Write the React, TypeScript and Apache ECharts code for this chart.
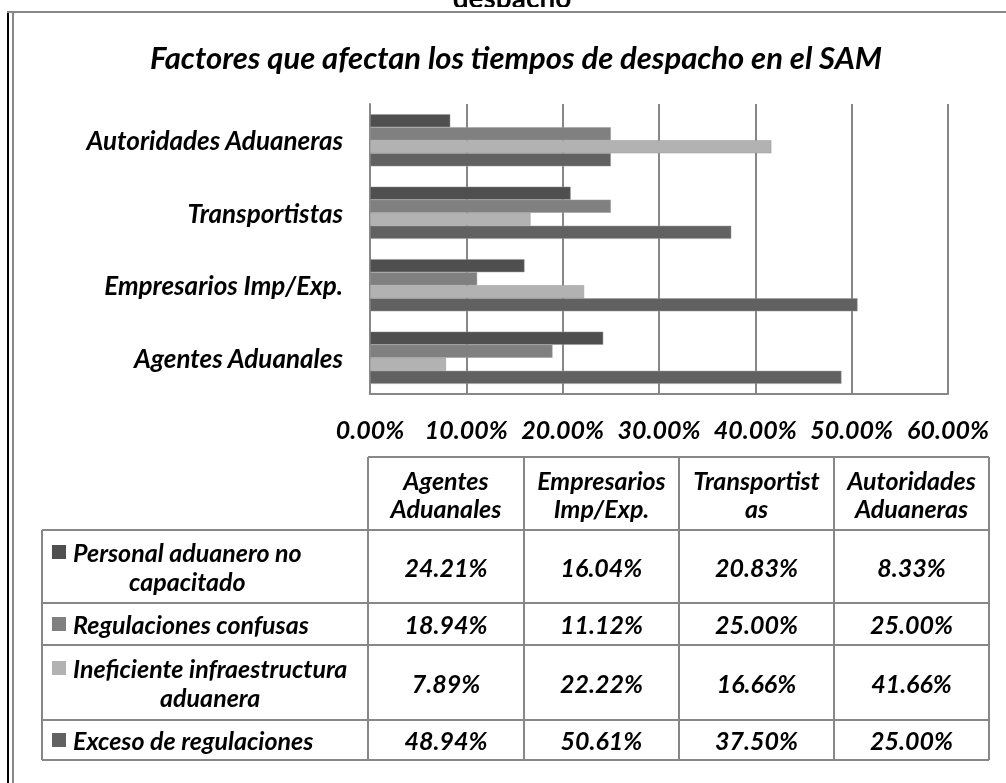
import React, { useEffect, useRef } from "react";
import * as echarts from "echarts";

const categories = ["Agentes Aduanales", "Empresarios Imp/Exp.", "Transportistas", "Autoridades Aduaneras"];
const headerLines = [["Agentes", "Aduanales"], ["Empresarios", "Imp/Exp."], ["Transportist", "as"], ["Autoridades", "Aduaneras"]];
const seriesNames = ["Personal aduanero no capacitado", "Regulaciones confusas", "Ineficiente infraestructura aduanera", "Exceso de regulaciones"];
const legendLines = [["Personal aduanero no", "capacitado"], ["Regulaciones confusas"], ["Ineficiente infraestructura", "aduanera"], ["Exceso de regulaciones"]];
const personal = [24.21, 16.04, 20.83, 8.33];
const regulaciones = [18.94, 11.12, 25.0, 25.0];
const ineficiente = [7.89, 22.22, 16.66, 41.66];
const exceso = [48.94, 50.61, 37.5, 25.0];
const seriesValues = [personal, regulaciones, ineficiente, exceso];
const colors = ["#4f4f4f", "#808080", "#b2b2b2", "#616161"];
const titleText = "Factores que afectan los tiempos de despacho en el SAM";
const topText = "despacho";

const FONT = "Lato";
const GRID_LINE = "#878787";

function measure(text: string, size: number) {
  const c = document.createElement("canvas").getContext("2d")!;
  c.font = `italic bold ${size}px ${FONT}`;
  return c.measureText(text).width;
}

export default function App() {
  const ref = useRef<HTMLDivElement>(null);
  useEffect(() => {
    document.body.style.margin = "0";
    const chart = echarts.init(ref.current!, null, { renderer: "svg" });

    const colX = [42, 368, 524, 679, 834, 989];
    const headerTop = 457;
    const rowY = [530, 603, 645, 720, 760];
    const tStyle = { fontFamily: FONT, fontStyle: "italic", fontWeight: "bold", fill: "#000" } as any;
    const graphics: any[] = [];
    const TS = 25; // table text size
    const VS = 25; // values size
    const HLH = 28; // header line spacing
    const LLH = 29; // legend line spacing

    const txt = (text: string, x: number, y: number, size: number, align: string, z = 4) =>
      graphics.push({ type: "text", z, style: { ...tStyle, text, x, y, fontSize: size, align, verticalAlign: "middle" } });

    // top cut-off text
    graphics.push({ type: "text", z: 1, style: { ...tStyle, fontStyle: "normal", text: topText, x: 512, y: -3, fontSize: 28, align: "center", verticalAlign: "middle" } });
    // white background of frame
    graphics.push({ type: "rect", z: 2, shape: { x: 0, y: 7, width: 1006, height: 790 }, style: { fill: "#fff" } });
    // frame lines
    graphics.push({ type: "line", z: 3, shape: { x1: 8, y1: 11, x2: 8, y2: 783 }, style: { stroke: "#000", lineWidth: 2 } });
    graphics.push({ type: "line", z: 3, shape: { x1: 13, y1: 11, x2: 13, y2: 783 }, style: { stroke: GRID_LINE, lineWidth: 2 } });
    graphics.push({ type: "line", z: 3, shape: { x1: 7, y1: 12, x2: 1006, y2: 12 }, style: { stroke: GRID_LINE, lineWidth: 2 } });

    // title
    txt(titleText, 516, 57, 31, "center");

    // table lines
    const ln = (x1: number, y1: number, x2: number, y2: number) =>
      graphics.push({ type: "line", z: 3, shape: { x1, y1, x2, y2 }, style: { stroke: GRID_LINE, lineWidth: 2 } });
    ln(colX[1], headerTop, colX[5], headerTop);
    rowY.forEach((y) => ln(colX[0], y, colX[5], y));
    ln(colX[0], rowY[0], colX[0], rowY[rowY.length - 1]);
    for (let i = 1; i < colX.length; i++) ln(colX[i], headerTop, colX[i], rowY[rowY.length - 1]);

    // header texts
    headerLines.forEach((lines, i) => {
      const cx = (colX[i + 1] + colX[i + 2]) / 2;
      const cy = (headerTop + rowY[0]) / 2;
      lines.forEach((l, k) => txt(l, cx, cy + (k - (lines.length - 1) / 2) * HLH, TS, "center"));
    });

    // legend & values
    seriesNames.forEach((name, r) => {
      const cy = (rowY[r] + rowY[r + 1]) / 2;
      const lines = legendLines[r];
      const iconX = 52;
      const textX = 73;
      if (lines.length === 1) {
        graphics.push({ type: "rect", z: 4, shape: { x: iconX, y: cy - 7, width: 14, height: 14 }, style: { fill: colors[r] } });
        txt(lines[0], textX, cy, TS, "left");
      } else {
        const w = measure(lines[0], TS);
        const y0 = cy - LLH / 2;
        graphics.push({ type: "rect", z: 4, shape: { x: iconX, y: y0 - 7, width: 14, height: 14 }, style: { fill: colors[r] } });
        txt(lines[0], textX, y0, TS, "left");
        txt(lines[1], textX + w / 2, y0 + LLH, TS, "center");
      }
      seriesValues[r].forEach((v, c) => {
        const cx = (colX[c + 1] + colX[c + 2]) / 2;
        txt(v.toFixed(2) + "%", cx, cy, VS, "center");
      });
    });

    const option: any = {
      animation: false,
      backgroundColor: "transparent",
      grid: { left: 370, right: 58, top: 104, bottom: 389, containLabel: false, z: 5 },
      xAxis: {
        type: "value",
        min: 0,
        max: 60,
        interval: 10,
        z: 5,
        axisLine: { show: true, lineStyle: { color: GRID_LINE, width: 2 } },
        axisTick: { show: false },
        splitLine: { show: true, lineStyle: { color: GRID_LINE, width: 2 } },
        axisLabel: { formatter: (v: number) => v.toFixed(2) + "%", margin: 22, fontFamily: FONT, fontStyle: "italic", fontWeight: "bold", fontSize: 25, color: "#000" },
      },
      yAxis: {
        type: "category",
        data: categories,
        z: 5,
        axisLine: { show: true, lineStyle: { color: GRID_LINE, width: 2 } },
        axisTick: { show: false },
        splitLine: { show: false },
        axisLabel: { margin: 27, fontFamily: FONT, fontStyle: "italic", fontWeight: "bold", fontSize: 26, color: "#000" },
      },
      series: seriesNames.map((name, i) => ({
        type: "bar",
        name,
        data: seriesValues[i],
        barGap: "0%",
        barCategoryGap: "28%",
        z: 6,
        itemStyle: { color: colors[i], borderColor: "#9a9a9a", borderWidth: 0.5 },
      })),
      graphic: { elements: graphics },
    };
    chart.setOption(option);
    return () => chart.dispose();
  }, []);
  return <div ref={ref} style={{ position: "fixed", left: 0, top: 0, width: 1006, height: 783 }} />;
}
